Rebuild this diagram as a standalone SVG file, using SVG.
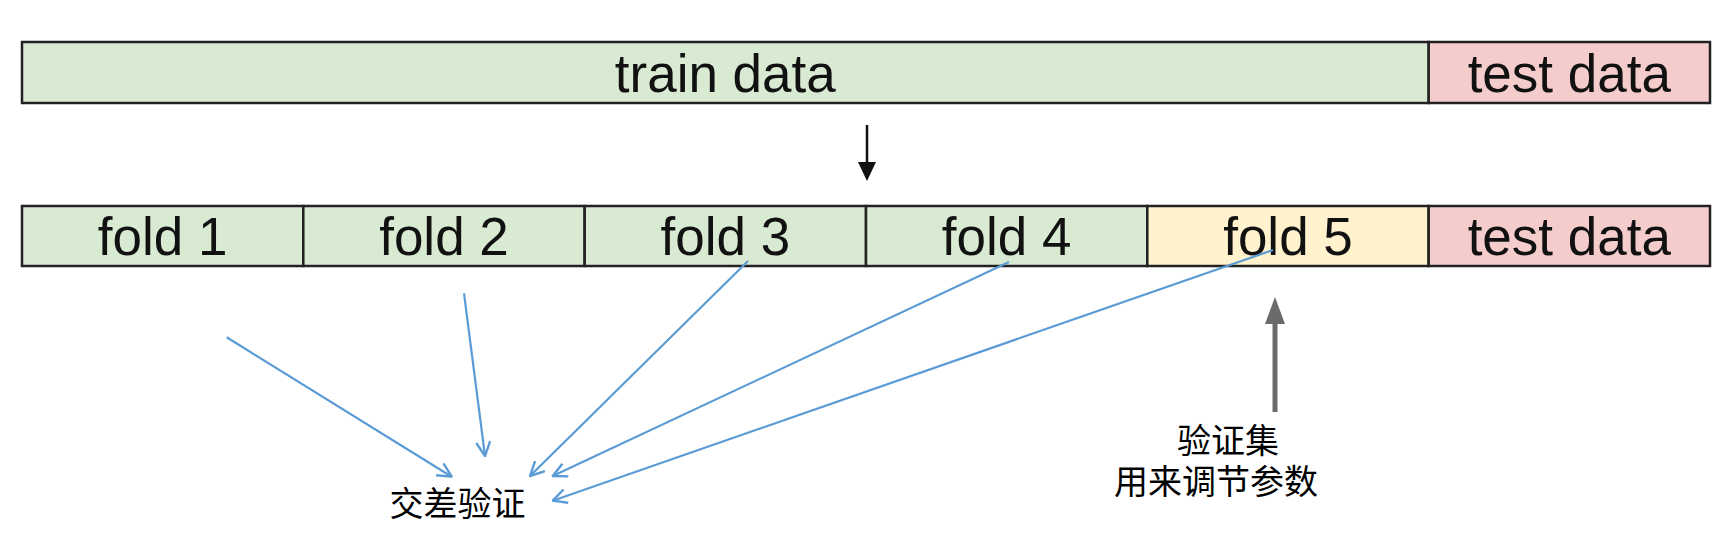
<svg xmlns="http://www.w3.org/2000/svg" width="1730" height="538" viewBox="0 0 1730 538">
<style>
.box{stroke:#222;stroke-width:2.5}
.g{fill:#d9ead3}.p{fill:#f4cccc}.y{fill:#fff2cc}
.lbl{font-family:"Liberation Sans",Arial,sans-serif;font-size:53px;fill:#111;text-anchor:middle}
.cn{font-family:"Liberation Serif","Noto Sans CJK SC",serif;font-size:34px;fill:#000;text-anchor:middle}
.blue{stroke:#5b9bd5;stroke-width:2.2;fill:none;marker-end:url(#open)}
</style>
<defs>
<marker id="open" viewBox="0 0 16 16" refX="15" refY="8" markerWidth="16" markerHeight="16" markerUnits="userSpaceOnUse" orient="auto">
<path d="M1,1 L15,8 L1,15" fill="none" stroke="#5b9bd5" stroke-width="2.4"/>
</marker>
</defs>
<g id="train-data"><rect class="box g" x="22" y="42" width="1406.7" height="61"/><text class="lbl" x="725.3" y="92">train data</text></g>
<g id="test-data-top"><rect class="box p" x="1428.7" y="42" width="281.3" height="61"/><text class="lbl" x="1569.3" y="92">test data</text></g>
<g id="fold1"><rect class="box g" x="22" y="206" width="281.3" height="60"/><text class="lbl" x="162.7" y="255">fold 1</text></g>
<g id="fold2"><rect class="box g" x="303.3" y="206" width="281.3" height="60"/><text class="lbl" x="444" y="255">fold 2</text></g>
<g id="fold3"><rect class="box g" x="584.7" y="206" width="281.3" height="60"/><text class="lbl" x="725.3" y="255">fold 3</text></g>
<g id="fold4"><rect class="box g" x="866" y="206" width="281.3" height="60"/><text class="lbl" x="1006.7" y="255">fold 4</text></g>
<g id="fold5"><rect class="box y" x="1147.3" y="206" width="281.3" height="60"/><text class="lbl" x="1288" y="255">fold 5</text></g>
<g id="test-data"><rect class="box p" x="1428.7" y="206" width="281.3" height="60"/><text class="lbl" x="1569.3" y="255">test data</text></g>
<g id="cross-validation"><text class="cn" x="457.5" y="516">交差验证</text></g>
<g id="validation-set"><text class="cn" x="1228" y="453">验证集</text><text class="cn" x="1216" y="494">用来调节参数</text></g>
<g id="connectors">
<line x1="867" y1="125" x2="867" y2="164" stroke="#111" stroke-width="2.5"/>
<path d="M858,162 L876,162 L867,181 Z" fill="#111"/>
<line x1="1275" y1="412" x2="1275" y2="318" stroke="#6b6b6b" stroke-width="5"/>
<path d="M1265,324 L1285,324 L1275,297 Z" fill="#6b6b6b"/>
<path class="blue" d="M226.7,337.3 L451.7,476.7"/>
<path class="blue" d="M464,293.3 L485,456"/>
<path class="blue" d="M748,261 L530,476"/>
<path class="blue" d="M1009,262 L552.7,476"/>
<path class="blue" d="M1273,250 L552.7,500.7"/>
</g>
</svg>
